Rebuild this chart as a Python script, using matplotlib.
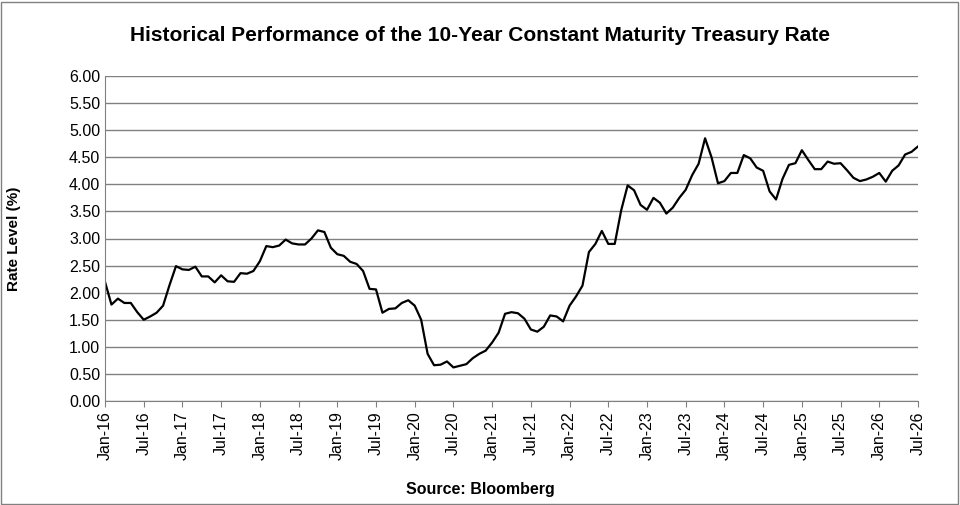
import matplotlib
matplotlib.use("Agg")
import matplotlib.pyplot as plt
import numpy as np

plt.rcParams['font.family'] = ['Liberation Sans', 'DejaVu Sans']

# monthly 10Y CMT readings, Jan-2016 .. Aug-2026
rates = [
    2.20, 1.78, 1.89, 1.81, 1.81, 1.64, 1.50, 1.56, 1.63, 1.76, 2.14, 2.49,
    2.43, 2.42, 2.48, 2.30, 2.30, 2.19, 2.32, 2.21, 2.20, 2.36, 2.35, 2.40,
    2.58, 2.86, 2.84, 2.87, 2.98, 2.91, 2.89, 2.89, 3.00, 3.15, 3.12, 2.83,
    2.71, 2.68, 2.57, 2.53, 2.40, 2.07, 2.06, 1.63, 1.70, 1.71, 1.81, 1.86,
    1.76, 1.50, 0.87, 0.66, 0.67, 0.73, 0.62, 0.65, 0.68, 0.79, 0.87, 0.93,
    1.08, 1.26, 1.61, 1.64, 1.62, 1.52, 1.32, 1.28, 1.37, 1.58, 1.56, 1.47,
    1.76, 1.93, 2.13, 2.75, 2.90, 3.14, 2.90, 2.90, 3.52, 3.98, 3.89, 3.62,
    3.53, 3.75, 3.66, 3.46, 3.57, 3.75, 3.90, 4.17, 4.38, 4.85, 4.50, 4.02,
    4.06, 4.21, 4.21, 4.54, 4.48, 4.31, 4.25, 3.87, 3.72, 4.10, 4.36, 4.39,
    4.63, 4.45, 4.28, 4.28, 4.42, 4.38, 4.39, 4.26, 4.12, 4.06, 4.09, 4.14,
    4.21, 4.05, 4.25, 4.35, 4.55, 4.60, 4.70, 4.72,
]
tick_labels = []
for yr in range(16, 27):
    tick_labels += [f"Jan-{yr}", f"Jul-{yr}"]

months = np.arange(len(rates))

fig = plt.figure(figsize=(9.6, 5.05), dpi=100)
ax = fig.add_axes([105 / 960, 104 / 505, 813 / 960, 325 / 505])

ax.plot(months, rates, color='black', linewidth=1.6)

ax.set_xlim(0, 126)
ax.set_ylim(0, 6)
ax.set_yticks(np.arange(0, 6.01, 0.5))
ax.set_yticklabels([f"{v:.2f}" for v in np.arange(0, 6.01, 0.5)], fontsize=11.5)
ax.set_xticks(np.arange(0, 127, 6))
ax.set_xticklabels(tick_labels, rotation=90, fontsize=11.5)
ax.grid(axis='y', color='#808080', linewidth=1)
ax.set_axisbelow(True)
for side in ['top', 'right']:
    ax.spines[side].set_visible(False)
ax.spines['left'].set_color('#808080')
ax.spines['bottom'].set_color('#808080')
ax.tick_params(axis='y', length=0)
ax.tick_params(axis='x', length=4, color='#808080')

ax.set_ylabel('Rate Level (%)', fontsize=11, fontweight='bold')
ax.yaxis.set_label_coords(-0.103, 0.5)
fig.text(0.5, 0.93, 'Historical Performance of the 10-Year Constant Maturity Treasury Rate',
         ha='center', va='center', fontsize=15, fontweight='bold')
fig.text(0.5, 0.03, 'Source: Bloomberg', ha='center', va='center',
         fontsize=11.5, fontweight='bold')

fig.patches.append(plt.Rectangle((0.001, 0.002), 0.997, 0.995, transform=fig.transFigure,
                                 fill=False, edgecolor='#808080', linewidth=1))

fig.savefig('out.png', dpi=100)
